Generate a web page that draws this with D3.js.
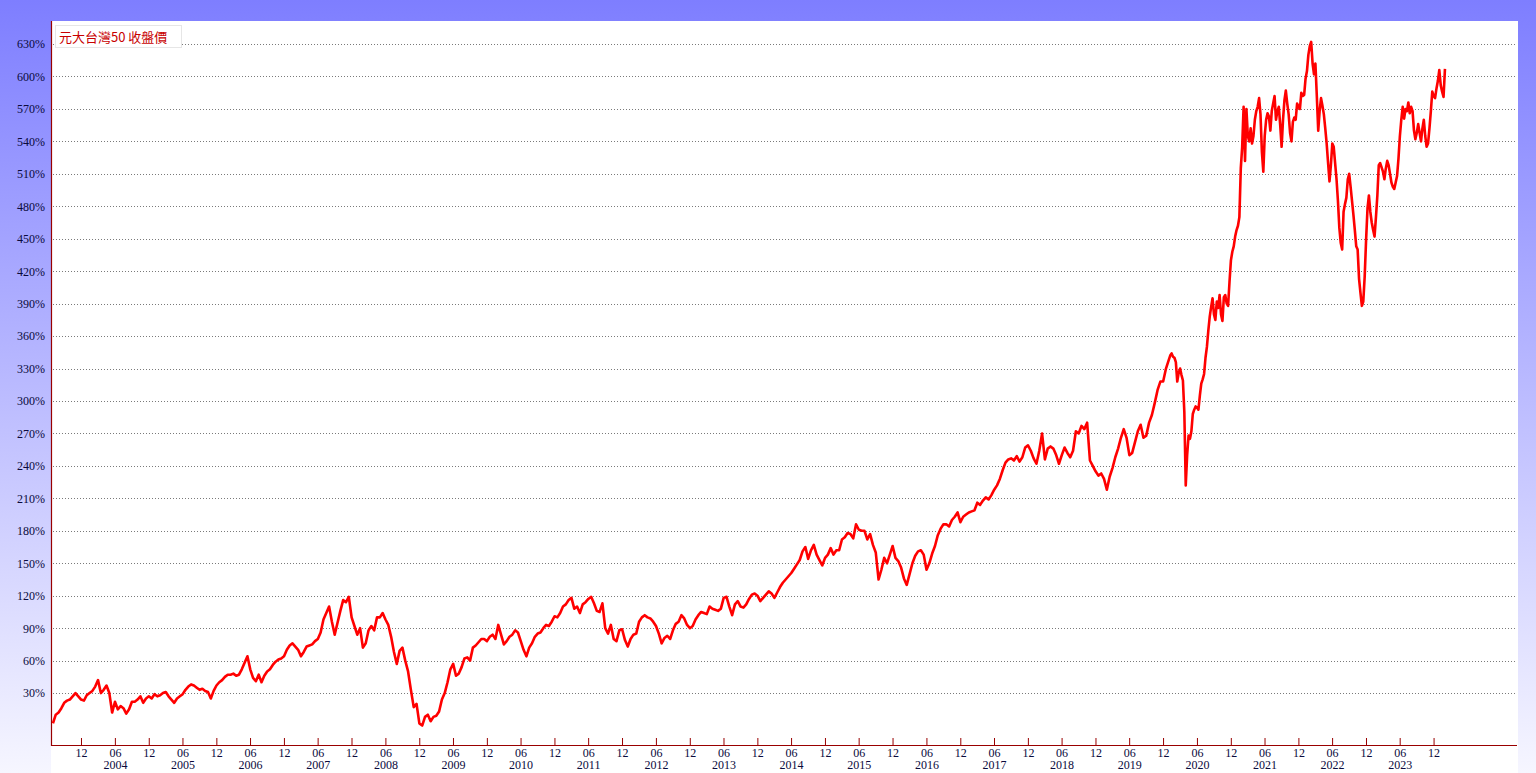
<!DOCTYPE html>
<html><head><meta charset="utf-8">
<script src="https://cdn.jsdelivr.net/npm/d3@7"></script>
<style>html,body{margin:0;padding:0;overflow:hidden;background:#fff}svg{display:block}</style>
</head><body>
<svg id="chart" width="1536" height="773"></svg>
<script>
// ---------------- data ----------------
const seriesName = "元大台灣50 收盤價";
const yTickValues = [30,60,90,120,150,180,210,240,270,300,330,360,390,420,450,480,510,540,570,600,630];
const tickYears = [2003,2004,2005,2006,2007,2008,2009,2010,2011,2012,2013,2014,2015,2016,2017,2018,2019,2020,2021,2022,2023];
const monthTickLabels = ["06","12"];

// cumulative return (%) samples; semi-monthly until 2019, weekly from 2020
const v2003 = [2,10,12,16,21,23,24,27,30,27,24,23];
const v2004 = [28,30,32,36,42,30,33,37,30,12,22,15,18,16,11,15,22,22,24,27,21,25,27,25];
const v2005 = [29,27,28,30,31,27,24,21,25,27,29,33,36,38,37,35,33,34,32,31,25,32,37,40];
const v2006 = [42,45,47,47,48,46,47,52,58,64,52,44,41,47,40,46,50,52,56,59,61,62,64,70];
const v2007 = [74,76,73,70,64,68,73,74,75,78,80,86,98,104,110,96,84,95,106,116,114,119,100,92];
const v2008 = [84,90,72,76,88,92,88,100,100,104,98,93,82,68,57,69,72,60,50,33,17,20,2,0];
const v2009 = [8,10,4,8,9,13,24,30,40,52,57,46,48,54,62,63,60,72,74,77,80,80,78,82];
const v2010 = [84,80,93,84,75,78,82,84,88,86,78,70,64,72,76,82,85,86,90,93,92,96,101,100];
const v2011 = [104,110,112,116,118,108,110,104,112,114,117,119,113,106,105,113,90,85,93,80,78,88,89,79];
const v2012 = [73,80,84,85,96,100,102,100,99,96,92,85,76,81,83,80,88,94,96,102,99,93,90,92];
const v2013 = [98,102,105,104,103,110,108,107,106,108,118,119,110,102,112,115,110,109,112,117,121,122,120,115];
const v2014 = [118,121,124,122,118,123,128,132,135,138,141,145,149,153,161,165,154,162,167,158,153,148,155,158];
const v2015 = [164,158,162,162,172,174,178,177,173,186,181,180,180,172,177,167,160,135,144,155,150,158,166,155];
const v2016 = [152,146,136,130,140,150,157,161,162,158,144,150,159,166,176,182,186,186,184,190,193,197,188,193];
const v2017 = [195,197,198,199,206,204,208,211,209,213,218,222,228,236,243,246,247,245,249,244,248,257,259,254];
const v2018 = [247,242,254,270,246,256,258,256,250,242,250,257,252,248,254,272,270,277,274,280,245,240,235,231];
const v2019 = [233,228,218,230,238,248,256,266,274,266,250,252,262,272,278,266,268,280,287,298,310,318,318,330];
const v2020 = [338,342,344,341,340,336,318,326,330,324,319,290,222,250,268,265,272,288,292,295,294,292,305,316,
               320,325,340,350,365,378,387,395,380,375,392,386,398,380,374,396,398,390,388,410,430,438,443,452];
const v2021 = [458,462,470,515,535,572,522,570,545,540,552,538,545,560,568,572,580,565,530,512,545,560,566,563,
               550,568,575,582,560,568,572,555,535,560,578,587,575,565,548,540,558,562,560,575,572,570,585,582];
const v2022 = [583,598,605,620,628,632,612,602,612,582,550,568,580,573,565,552,538,520,503,518,538,535,520,505,
               485,460,446,440,475,482,488,505,510,498,485,472,458,443,440,413,400,388,392,415,449,478,490,475];
const v2023 = [465,458,452,470,490,518,520,516,512,505,515,522,518,510,502,498,496,502,508,524,545,560,572,561,
               570,568,576,566,572,568,550,542,548,556,548,540,552,560,545,535,538,552,568,586,582,580,589,596];
const v2024 = [606,592,586,581,607];

const segments = [
  {year:2003, perYear:24, offset:12, values:v2003},
  {year:2004, perYear:24, offset:0, values:v2004},
  {year:2005, perYear:24, offset:0, values:v2005},
  {year:2006, perYear:24, offset:0, values:v2006},
  {year:2007, perYear:24, offset:0, values:v2007},
  {year:2008, perYear:24, offset:0, values:v2008},
  {year:2009, perYear:24, offset:0, values:v2009},
  {year:2010, perYear:24, offset:0, values:v2010},
  {year:2011, perYear:24, offset:0, values:v2011},
  {year:2012, perYear:24, offset:0, values:v2012},
  {year:2013, perYear:24, offset:0, values:v2013},
  {year:2014, perYear:24, offset:0, values:v2014},
  {year:2015, perYear:24, offset:0, values:v2015},
  {year:2016, perYear:24, offset:0, values:v2016},
  {year:2017, perYear:24, offset:0, values:v2017},
  {year:2018, perYear:24, offset:0, values:v2018},
  {year:2019, perYear:24, offset:0, values:v2019},
  {year:2020, perYear:48, offset:0, values:v2020},
  {year:2021, perYear:48, offset:0, values:v2021},
  {year:2022, perYear:48, offset:0, values:v2022},
  {year:2023, perYear:48, offset:0, values:v2023},
  {year:2024, perYear:48, offset:0, values:v2024}
];

const points = [];
segments.forEach(s => {
  const a = new Date(s.year,0,1).getTime(), b = new Date(s.year+1,0,1).getTime();
  s.values.forEach((v,k) => points.push({date:new Date(a + (s.offset+k)/s.perYear*(b-a)), value:v}));
});

// ---------------- layout ----------------
const W = 1536, H = 773;
const pLeft = 51, pRight = 1518, pTop = 21, pBottom = 745;
const svg = d3.select("#chart");

const defs = svg.append("defs");
const grad = defs.append("linearGradient").attr("id","bg").attr("x1",0).attr("y1",0).attr("x2",0).attr("y2",1);
grad.append("stop").attr("offset","0%").attr("stop-color","#7e7eff");
grad.append("stop").attr("offset","100%").attr("stop-color","#f6f6ff");
defs.append("clipPath").attr("id","clip").append("rect")
  .attr("x",pLeft+1).attr("y",pTop).attr("width",pRight-pLeft-1).attr("height",pBottom-pTop);

svg.append("rect").attr("width",W).attr("height",H).attr("fill","url(#bg)");
svg.append("rect").attr("x",pLeft).attr("y",pTop).attr("width",pRight-pLeft).attr("height",H-pTop).attr("fill","#fff");

const x = d3.scaleTime().domain([new Date(2003,5,22), new Date(2025,2,1)]).range([pLeft,pRight]);
const y = d3.scaleLinear().domain([-18, 651.3]).range([pBottom, pTop]);

// grid
svg.append("g").selectAll("line").data(yTickValues).join("line")
  .attr("x1",pLeft+2).attr("x2",pRight-1)
  .attr("y1",d=>Math.round(y(d))+0.5).attr("y2",d=>Math.round(y(d))+0.5)
  .attr("stroke","#7a7a7a").attr("stroke-width",1).attr("stroke-dasharray","1,2");

// y axis
const yAxis = svg.append("g").attr("transform",`translate(${pLeft},0)`)
  .call(d3.axisLeft(y).tickValues(yTickValues).tickFormat(d=>d+"%").tickSize(0).tickPadding(6));
yAxis.select(".domain").remove();
yAxis.selectAll("text").attr("font-family","'Liberation Serif', 'Times New Roman', serif")
  .attr("font-size","12px").attr("fill","#0a0a3c");

// x axis ticks
const monthTicks = [];
tickYears.forEach(yr => {
  if (yr > tickYears[0]) monthTicks.push({date:new Date(yr,5,1), label:monthTickLabels[0]});
  monthTicks.push({date:new Date(yr,11,1), label:monthTickLabels[1]});
});
const labelOf = new Map(monthTicks.map(t=>[+t.date, t.label]));
const xAxis = svg.append("g").attr("transform",`translate(0,${pBottom})`)
  .call(d3.axisBottom(x).tickValues(monthTicks.map(t=>t.date)).tickFormat(d=>labelOf.get(+d)).tickSize(-7).tickPadding(3));
xAxis.select(".domain").remove();
xAxis.selectAll("line").attr("stroke","#990000");
xAxis.selectAll("text").attr("font-family","'Liberation Serif', 'Times New Roman', serif")
  .attr("font-size","12px").attr("fill","#0a0a3c");

const yearTicks = tickYears.filter(yr => yr > tickYears[0]).map(yr => new Date(yr,5,1));
const yearAxis = svg.append("g").attr("transform",`translate(0,${pBottom})`)
  .call(d3.axisBottom(x).tickValues(yearTicks).tickFormat(d3.timeFormat("%Y")).tickSize(0).tickPadding(15));
yearAxis.select(".domain").remove();
yearAxis.selectAll("text").attr("font-family","'Liberation Serif', 'Times New Roman', serif")
  .attr("font-size","12px").attr("fill","#0a0a3c");

// axis lines
svg.append("line").attr("x1",pLeft+0.5).attr("x2",pLeft+0.5).attr("y1",pTop).attr("y2",pBottom+1)
  .attr("stroke","#990000").attr("stroke-width",1.2);
svg.append("line").attr("x1",pLeft).attr("x2",pRight-1).attr("y1",pBottom+0.5).attr("y2",pBottom+0.5)
  .attr("stroke","#990000").attr("stroke-width",1.2);

// series line
const line = d3.line().x(d=>x(d.date)).y(d=>y(d.value)).curve(d3.curveLinear);
svg.append("path").datum(points).attr("clip-path","url(#clip)")
  .attr("d",line).attr("fill","none").attr("stroke","#ff0000")
  .attr("stroke-width",2.6).attr("stroke-linejoin","round");

// legend
const lg = svg.append("g");
lg.append("rect").attr("x",55.5).attr("y",25.5).attr("width",126).attr("height",22)
  .attr("fill","#fff").attr("stroke","#e6e6e6");
lg.append("text").attr("x",59).attr("y",41.5).text(seriesName)
  .attr("font-family","'Noto Sans CJK TC', 'Noto Sans CJK SC', sans-serif")
  .attr("font-size","13px").attr("fill","#c80000");
</script>
</body></html>
